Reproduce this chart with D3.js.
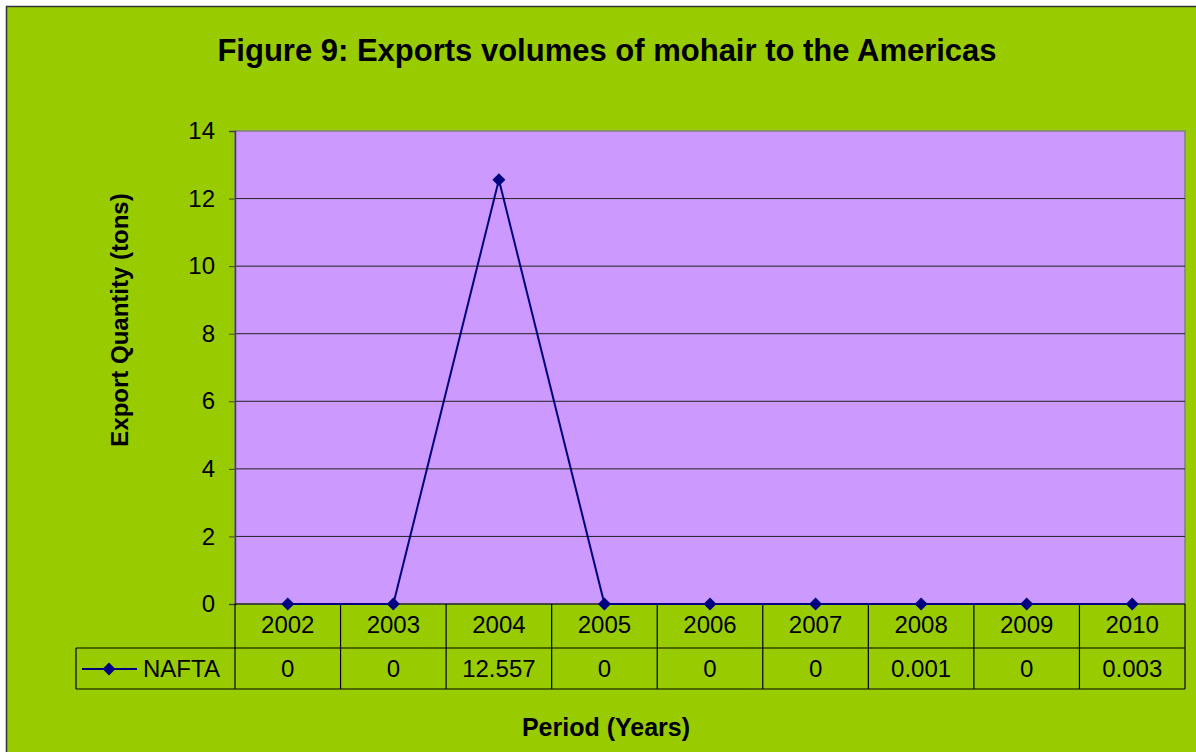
<!DOCTYPE html>
<html><head><meta charset="utf-8">
<script src="https://cdn.jsdelivr.net/npm/d3@7"></script>
<style>body{margin:0;background:#fff;}svg{display:block;font-family:"Liberation Sans",Arial,sans-serif;}</style>
</head><body>
<svg id="c" width="1196" height="752"></svg>
<script>
const years = ["2002","2003","2004","2005","2006","2007","2008","2009","2010"];
const nafta = [0, 0, 12.557, 0, 0, 0, 0.001, 0, 0.003];
const naftaLabels = ["0","0","12.557","0","0","0","0.001","0","0.003"];
const yTicks = [0, 2, 4, 6, 8, 10, 12, 14];
const seriesName = "NAFTA";
const title = "Figure 9: Exports volumes of mohair to the Americas";
const yTitle = "Export Quantity (tons)";
const xTitle = "Period (Years)";

const svg = d3.select("#c");
svg.append("rect").attr("x",7).attr("y",7).attr("width",1200).attr("height",760).attr("fill","#99CC00");
svg.append("line").attr("x1",6).attr("x2",1196).attr("y1",6.5).attr("y2",6.5).attr("stroke","#333").attr("stroke-width",1.5);
svg.append("line").attr("x1",6.5).attr("x2",6.5).attr("y1",6).attr("y2",752).attr("stroke","#333").attr("stroke-width",1.5);

const L=235, R=1185, T=131, B=604;
const x = d3.scaleBand().domain(years).range([L,R]);
const y = d3.scaleLinear().domain([0,14]).range([B,T]);
const diamond = "M0,-6.5L6.5,0L0,6.5L-6.5,0Z";

svg.append("rect").attr("x",L).attr("y",T).attr("width",R-L).attr("height",B-T).attr("fill","#CC99FF").attr("stroke","#808080").attr("stroke-width",1.5);

// gridlines
svg.append("g").selectAll("line").data(yTicks.filter(d=>d>0&&d<14)).join("line")
  .attr("x1",L).attr("x2",R).attr("y1",d=>y(d)).attr("y2",d=>y(d)).attr("stroke","#222").attr("stroke-width",1);

// y axis
const ya = svg.append("g").attr("transform",`translate(${L},0)`)
  .call(d3.axisLeft(y).tickValues(yTicks).tickSize(6).tickPadding(14).tickFormat(d3.format("d")));
ya.select(".domain").attr("stroke","#444").attr("stroke-width",1.5);
ya.selectAll(".tick line").attr("stroke","#444");
ya.selectAll("text").attr("font-size",24).attr("fill","#000").attr("font-family","Liberation Sans, Arial, sans-serif");

// table
const tLeft = 76, r1 = 648, r2 = 689;
const tg = svg.append("g").attr("stroke","#000").attr("stroke-width",1.2);
tg.append("line").attr("x1",L).attr("x2",R).attr("y1",B).attr("y2",B);
tg.append("line").attr("x1",tLeft).attr("x2",R).attr("y1",r1).attr("y2",r1);
tg.append("line").attr("x1",tLeft).attr("x2",R).attr("y1",r2).attr("y2",r2);
tg.append("line").attr("x1",tLeft).attr("x2",tLeft).attr("y1",r1).attr("y2",r2);
tg.selectAll(".v").data(years).join("line").attr("class","v")
  .attr("x1",d=>x(d)).attr("x2",d=>x(d)).attr("y1",B).attr("y2",r2);
tg.append("line").attr("x1",R).attr("x2",R).attr("y1",B).attr("y2",r2);

svg.append("g").selectAll("text").data(years).join("text")
  .attr("x",d=>x(d)+x.bandwidth()/2).attr("y",633).attr("text-anchor","middle")
  .attr("font-size",24).text(d=>d);
svg.append("g").selectAll("text").data(naftaLabels).join("text")
  .attr("x",(d,i)=>x(years[i])+x.bandwidth()/2).attr("y",677).attr("text-anchor","middle")
  .attr("font-size",24).text(d=>d);

// legend key
const ky=(r1+r2)/2+0.5;
svg.append("line").attr("x1",82).attr("x2",137).attr("y1",ky).attr("y2",ky).attr("stroke","#000080").attr("stroke-width",2);
svg.append("path").attr("d",diamond).attr("transform",`translate(109,${ky})`).attr("fill","#000080");
svg.append("text").attr("x",143).attr("y",677).attr("font-size",24).text(seriesName);

// line
const line = d3.line().x((d,i)=>x(years[i])+x.bandwidth()/2).y(d=>y(d));
svg.append("path").datum(nafta).attr("d",line).attr("fill","none").attr("stroke","#000080").attr("stroke-width",2);
svg.append("g").selectAll("path").data(nafta).join("path")
  .attr("d",diamond)
  .attr("transform",(d,i)=>`translate(${x(years[i])+x.bandwidth()/2},${y(d)})`).attr("fill","#000080");

// titles
svg.append("text").attr("x",607).attr("y",61).attr("text-anchor","middle").attr("font-size",31).attr("font-weight","bold").text(title);
svg.append("text").attr("transform","translate(128,320) rotate(-90)").attr("text-anchor","middle").attr("font-size",24).attr("font-weight","bold").text(yTitle);
svg.append("text").attr("x",606).attr("y",736).attr("text-anchor","middle").attr("font-size",25).attr("font-weight","bold").text(xTitle);
</script>
</body></html>
